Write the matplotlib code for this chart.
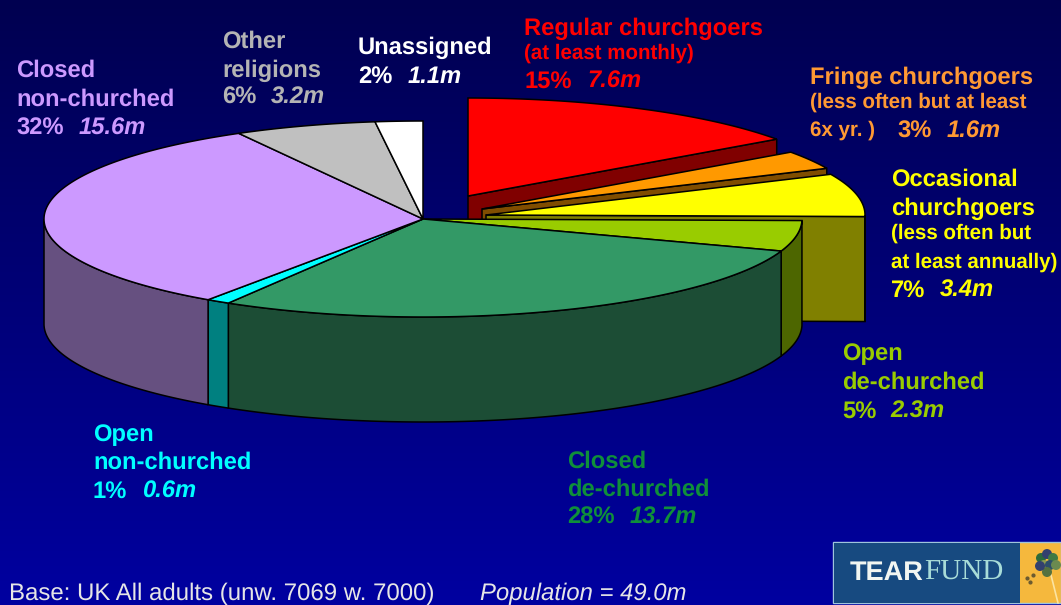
import numpy as np
import matplotlib
matplotlib.use("Agg")
import matplotlib.pyplot as plt
from matplotlib.patches import Polygon, Rectangle

plt.rcParams["font.family"] = ["Liberation Sans", "DejaVu Sans"]
plt.rcParams["text.hinting"] = "none"

# shares clockwise from 12 o'clock, as printed on the slide
segments = ["Regular churchgoers", "Fringe churchgoers", "Occasional churchgoers",
            "Open de-churched", "Closed de-churched", "Open non-churched",
            "Closed non-churched", "Other religions", "Unassigned"]
shares = [15, 3, 7, 5, 28, 1, 32, 6, 2]
millions = ["7.6m", "1.6m", "3.4m", "2.3m", "13.7m", "0.6m", "15.6m", "3.2m", "1.1m"]

top_colors = ["#ff0000", "#ff9900", "#ffff00", "#99cc00", "#339966",
              "#00ffff", "#cc99ff", "#c0c0c0", "#ffffff"]
side_colors = ["#800000", "#804d00", "#808000", "#4d6600", "#1c4d35",
               "#008080", "#665080", "#606060", "#808080"]
text_colors = ["#ff0000", "#ff9933", "#ffff00", "#99cc00", "#0f8f3a",
               "#00ffff", "#cc99ff", "#b4b4b4", "#ffffff"]

# pie geometry in pixels
CX, CY, RX, RY, DEPTH = 423, 219, 379, 98, 105
OFFSETS = [(45, -23), (59, -10), (63, -4), (0, 0), (0, 0), (0, 0), (0, 0), (0, 0), (0, 0)]


def rim(t0, t1, dx=0, dy=0, drop=0):
    t = np.radians(np.linspace(t0, t1, max(int(abs(t1 - t0) * 2), 2)))
    return np.column_stack([CX + dx + RX * np.cos(t), CY + dy + drop + RY * np.sin(t)])


def draw_slice(ax, t0, t1, dx, dy, top, side):
    apex = np.array([CX + dx, CY + dy])
    # cut face on the clockwise-leading edge, only seen on the lifted slices
    if t0 < 0:
        p = rim(t1, t1, dx, dy)[0]
        ax.add_patch(Polygon([apex, p, p + [0, DEPTH], apex + [0, DEPTH]],
                             fc=side, ec="black", lw=1.1))
    # outer wall, front half only
    a, b = max(t0, 0), min(t1, 180)
    if b > a:
        wall = np.vstack([rim(a, b, dx, dy), rim(b, a, dx, dy, DEPTH)])
        ax.add_patch(Polygon(wall, fc=side, ec="black", lw=1.1))
    outline = np.vstack([apex, rim(t0, t1, dx, dy)])
    ax.add_patch(Polygon(outline, fc=top, ec="black", lw=1.1))


fig = plt.figure(figsize=(10.61, 6.05), dpi=100)
ax = fig.add_axes([0, 0, 1, 1])
ax.set_xlim(0, 1061)
ax.set_ylim(605, 0)
ax.axis("off")

grad = np.zeros((256, 1, 3))
grad[:, 0, 2] = np.linspace(0x50, 0xa0, 256) / 255
ax.imshow(grad, extent=[0, 1061, 605, 0], aspect="auto", zorder=0)

angles = np.cumsum([0] + shares) / sum(shares) * 360 - 90
for i in range(len(shares)):
    draw_slice(ax, angles[i], angles[i + 1], OFFSETS[i][0], OFFSETS[i][1],
               top_colors[i], side_colors[i])


def line(x, y, s, color, size=17.1, style="normal"):
    # y is the middle of the capitals, so a descender does not move the line
    shift = 6 if size < 16 else 8
    ax.text(x, y + shift, s, color=color, fontsize=size, fontweight="bold", fontstyle=style,
            ha="left", va="baseline")


def stat(x, y, i, x_value):
    line(x, y, f"{shares[i]}%", text_colors[i])
    line(x_value, y, millions[i], text_colors[i], style="italic")


c = text_colors
line(524, 27, "Regular churchgoers", c[0])
line(524, 53, "(at least monthly)", c[0], 14.8)
stat(524, 80, 0, 587)

line(810, 76, "Fringe churchgoers", c[1])
line(810, 102, "(less often but at least", c[1], 14.8)
line(810, 130, "6x yr. )", c[1], 14.8)
stat(897, 130, 1, 947)

line(891, 178, "Occasional", c[2])
line(891, 207, "churchgoers", c[2])
line(891, 233, "(less often but", c[2], 14.8)
line(891, 262, "at least annually)", c[2], 14.8)
stat(891, 289, 2, 940)

line(842, 352, "Open", c[3])
line(842, 381, "de-churched", c[3])
stat(842, 410, 3, 890)

line(567, 460, "Closed", c[4])
line(567, 488, "de-churched", c[4])
stat(567, 516, 4, 630)

line(93, 433, "Open", c[5])
line(93, 461, "non-churched", c[5])
stat(93, 490, 5, 142)

line(16, 69, "Closed", c[6])
line(16, 98, "non-churched", c[6])
stat(16, 127, 6, 79)

line(222, 40, "Other", c[7])
line(222, 69, "religions", c[7])
stat(222, 96, 7, 271)

line(358, 46, "Unassigned", c[8])
stat(358, 75, 8, 408)

ax.text(9, 600, "Base: UK All adults (unw. 7069 w. 7000)", color="#e6e6e6", fontsize=17.3,
        ha="left", va="baseline")
ax.text(480, 600, "Population = 49.0m", color="#e6e6e6", fontsize=17.2, fontstyle="italic",
        ha="left", va="baseline")

# logo
ax.add_patch(Rectangle((833, 542), 228, 61, fc="#f5b83d", ec="#9fc4dc", lw=1))
ax.add_patch(Rectangle((834, 543), 186, 60, fc="#174a80", ec="none"))
ax.text(850, 580, "TEAR", color="#f2f6f2", fontsize=19.5, fontweight="bold", ha="left", va="baseline")
ax.text(924, 580, "FUND", color="#a8dcd8", fontsize=21, family="Liberation Serif",
        ha="left", va="baseline")
ax.scatter([1041, 1047, 1053, 1044, 1050, 1047, 1056, 1040], [558, 554, 558, 565, 565, 572, 565, 566],
           s=38, c=["#2d6a3a", "#33406e", "#3f7a44", "#8a9a50", "#2d4d6a", "#55713f", "#6b8a50", "#33406e"],
           zorder=5)
ax.plot([1051, 1058], [575, 603], color="#fbe3a0", lw=1.2)
ax.scatter([1027, 1033, 1030], [578, 575, 582], s=4, c="#6b5a30")

fig.savefig("out.png", dpi=100)
